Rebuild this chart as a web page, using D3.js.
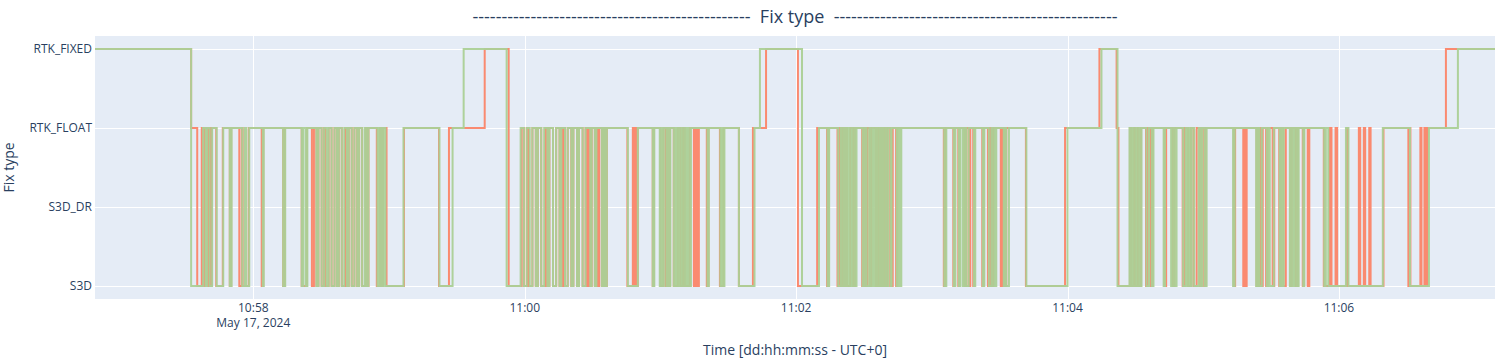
<!DOCTYPE html>
<html>
<head>
<meta charset="utf-8">
<script src="https://cdn.jsdelivr.net/npm/d3@7/dist/d3.min.js"></script>
<style>
    body { margin: 0; background: #fff; }
    svg text { font-family: "Open Sans", verdana, arial, sans-serif; fill: #2a3f5f; }
</style>
</head>
<body>
<svg id="grafico" width="1501" height="362"></svg>
<script>
// Categorías del eje Y (de abajo a arriba)
const categorias = ["S3D", "S3D_DR", "RTK_FLOAT", "RTK_FIXED"];

// Inicio del registro y duración (segundos)
const inicio = Date.UTC(2024, 4, 17, 10, 56, 50);
const duracion = 619;

// Serie verde: tramos en RTK_FIXED y caídas a S3D [inicio, fin] en segundos desde el inicio.
// El resto del tiempo está en RTK_FLOAT.
const verdeFixed = [[0, 42.5], [163.0, 182.0], [294.0, 312.6], [445.0, 452.1], [602.6, 619]];
const verdeS3D = [
    [42.5, 47.8], [48.9, 49.6], [50.7, 51.8], [53.8, 56.7], [59.6, 60.4], [65.1, 66.2], [66.9, 68.2], [74.2, 74.6], [83.2, 84.1],
    [91.4, 92.1], [93.2, 93.9], [97.9, 98.8], [100.2, 101.3], [102.4, 103.3], [104.6, 105.9], [107.0, 107.8], [109.1, 110.2],
    [111.4, 112.2], [113.5, 114.7], [115.9, 116.7], [118.0, 119.2], [120.0, 120.9], [124.9, 125.5], [126.0, 126.4], [127.1, 127.5],
    [128.4, 136.4], [152.3, 158.1],
    [182.0, 188.2], [189.6, 190.9], [192.2, 193.4], [194.9, 195.8], [197.3, 198.6], [200.0, 200.9], [202.5, 203.9],
    [205.4, 206.2], [207.8, 209.0], [210.6, 211.5], [213.1, 214.0], [215.6, 216.9], [219.0, 219.6], [221.0, 221.7],
    [224.1, 224.9], [225.6, 226.3],
    [235.6, 240.0], [246.6, 247.3], [249.7, 250.4], [250.8, 251.5], [252.6, 253.1], [253.9, 254.4], [255.9, 256.8],
    [257.3, 258.1], [258.6, 259.5], [259.9, 260.8], [261.3, 262.1], [262.6, 263.5], [270.8, 271.4], [276.5, 277.2],
    [277.6, 278.3], [284.7, 291.6],
    [312.6, 320.1], [323.9, 324.6], [328.6, 329.7], [330.1, 331.0], [331.7, 332.5], [333.4, 334.3], [335.0, 335.9],
    [336.3, 336.7], [339.4, 340.3], [341.2, 342.3], [342.7, 343.6], [344.3, 345.2], [345.8, 346.7], [347.2, 348.0],
    [348.5, 349.4], [349.8, 350.7], [351.8, 352.2], [354.5, 355.1], [355.8, 356.5], [375.5, 376.4], [379.7, 380.4],
    [381.9, 382.6], [383.7, 384.4], [385.2, 386.3], [388.6, 389.2], [392.5, 393.2], [395.2, 396.3], [396.7, 397.6],
    [397.9, 398.5], [401.8, 402.5], [402.9, 404.1], [411.8, 430.0],
    [452.1, 457.4], [457.9, 458.7], [459.2, 460.1], [460.5, 461.4], [461.8, 462.7], [464.9, 466.0], [467.2, 468.0],
    [472.5, 473.1], [475.8, 476.7], [477.3, 478.2], [481.1, 482.2], [482.7, 483.5], [484.0, 484.9], [486.0, 488.0],
    [488.9, 489.5], [490.6, 491.5], [503.2, 503.9], [513.4, 514.1], [514.8, 515.9], [518.1, 519.0], [519.4, 521.2],
    [523.8, 524.5], [525.2, 525.6], [528.3, 528.9], [529.8, 530.5], [531.4, 532.2], [534.2, 534.7], [543.5, 544.2],
    [545.3, 553.1], [554.2, 569.4], [581.4, 589.8]
];

// Serie roja, mismo formato
const rojoFixed = [[0, 42.5], [172.3, 182.9], [296.7, 310.8], [444.1, 451.7], [597.3, 619]];
const rojoS3D = [
    [45.2, 47.2], [48.0, 48.5], [49.8, 50.3], [51.1, 51.6], [53.6, 56.5], [59.6, 60.2], [63.8, 64.9], [65.3, 68.0], [73.7, 74.4],
    [83.2, 83.9], [91.4, 93.7], [95.9, 96.8], [97.9, 98.8], [100.2, 101.3], [101.8, 103.3], [104.6, 105.9], [107.0, 107.8],
    [109.1, 110.6], [111.4, 112.2], [113.5, 114.7], [115.9, 116.7], [118.0, 119.7], [120.0, 120.9], [124.6, 126.0], [126.9, 127.3],
    [128.9, 136.6], [152.1, 156.5],
    [182.9, 188.6], [189.6, 190.9], [191.6, 193.4], [194.9, 195.8], [197.3, 199.1], [200.0, 200.9], [202.5, 203.9],
    [205.4, 206.2], [207.0, 207.4], [207.8, 209.0], [210.6, 211.5], [213.1, 214.0], [215.6, 216.9], [217.6, 218.1],
    [219.0, 219.6], [221.0, 221.7], [222.4, 222.9], [224.1, 224.9], [225.6, 226.3],
    [235.4, 237.8], [238.4, 238.9], [239.3, 240.0], [246.6, 247.1], [250.0, 251.3], [252.4, 252.8], [253.7, 254.2], [255.9, 257.7],
    [258.8, 259.9], [260.8, 263.0], [264.8, 265.2], [265.7, 266.1], [266.6, 267.0], [270.5, 271.2], [276.3, 277.9], [284.7, 290.9],
    [310.8, 319.3], [323.7, 324.4], [328.3, 329.0], [329.9, 330.3], [331.2, 331.9], [332.5, 333.9], [335.2, 336.1], [339.2, 339.8],
    [340.7, 341.4], [342.5, 343.2], [345.2, 345.6], [346.3, 346.9], [347.6, 348.5], [349.4, 350.3], [351.6, 352.7], [354.2, 354.7],
    [375.3, 375.9], [379.5, 379.9], [381.7, 382.1], [384.4, 385.2], [386.3, 387.0], [388.3, 388.8], [392.3, 392.8], [394.8, 395.4],
    [396.3, 397.2], [400.5, 401.2], [402.1, 402.9], [411.6, 428.9],
    [452.5, 457.6], [458.1, 459.2], [459.9, 461.0], [461.4, 462.5], [464.7, 465.4], [466.7, 467.6], [472.9, 473.6], [476.5, 477.3],
    [480.9, 481.8], [483.3, 484.6], [485.7, 487.1], [488.4, 489.3], [490.4, 491.1], [503.5, 504.1], [507.7, 508.1], [508.6, 509.2],
    [513.6, 514.5], [515.4, 516.3], [517.8, 518.5], [520.7, 521.4], [523.6, 524.3], [525.4, 526.5], [528.5, 529.1], [530.9, 531.8],
    [534.0, 534.5], [536.2, 536.9],
    [543.3, 546.0], [546.7, 548.5], [549.2, 553.5], [553.9, 558.8], [559.4, 561.0], [561.6, 563.4], [564.0, 569.7],
    [580.7, 581.2], [581.6, 586.0], [586.5, 587.8], [588.3, 589.1]
];

const titulo = "------------------------------------------------  Fix type  -------------------------------------------------";

// Medidas del área de dibujo
const margen = {left: 95, right: 6, top: 36, bottom: 63};
const ancho = 1501, alto = 362;

/**
 * Convierte los tramos en una lista de puntos escalonados [segundos, categoría]
 */
function pasos(fixed, caidas){
    var tramos = fixed.map(d => [d[0], d[1], "RTK_FIXED"])
        .concat(caidas.map(d => [d[0], d[1], "S3D"]))
        .sort((a, b) => a[0] - b[0]);
    var puntos = [];
    if (tramos[0][0] > 0) puntos.push([0, "RTK_FLOAT"]);
    tramos.forEach(t => {
        puntos.push([t[0], t[2]]);
        puntos.push([t[1], t[1] >= duracion ? t[2] : "RTK_FLOAT"]);
    });
    return puntos;
}

var svg = d3.select("#grafico");

var x = d3.scaleUtc()
    .domain([new Date(inicio), new Date(inicio + duracion * 1000)])
    .range([margen.left, ancho - margen.right]);
var y = d3.scalePoint()
    .domain(categorias)
    .range([alto - margen.bottom, margen.top])
    .padding(0.165);

// Fondo
svg.append("rect")
    .attr("x", margen.left)
    .attr("y", margen.top)
    .attr("width", ancho - margen.left - margen.right)
    .attr("height", alto - margen.top - margen.bottom)
    .attr("fill", "#e5ecf6");

svg.append("clipPath").attr("id", "recorte")
    .append("rect")
    .attr("x", margen.left)
    .attr("y", margen.top)
    .attr("width", ancho - margen.left - margen.right)
    .attr("height", alto - margen.top - margen.bottom);

// Rejilla
var ticksX = x.ticks(d3.utcMinute.every(2));
svg.append("g").selectAll("line")
    .data(ticksX)
    .enter()
    .append("line")
    .attr("x1", d => Math.round(x(d)) + 0.5)
    .attr("x2", d => Math.round(x(d)) + 0.5)
    .attr("y1", margen.top)
    .attr("y2", alto - margen.bottom)
    .attr("stroke", "#fff")
    .attr("stroke-width", 1);
svg.append("g").selectAll("line")
    .data(categorias)
    .enter()
    .append("line")
    .attr("x1", margen.left)
    .attr("x2", ancho - margen.right)
    .attr("y1", d => Math.round(y(d)) + 0.5)
    .attr("y2", d => Math.round(y(d)) + 0.5)
    .attr("stroke", "#fff")
    .attr("stroke-width", 1);

// Líneas (la verde va encima)
var linea = d3.line()
    .x(d => x(new Date(inicio + d[0] * 1000)))
    .y(d => y(d[1]))
    .curve(d3.curveStepAfter);

svg.append("path")
    .datum(pasos(rojoFixed, rojoS3D))
    .attr("clip-path", "url(#recorte)")
    .attr("fill", "none")
    .attr("stroke", "#fa8a70")
    .attr("stroke-width", 2)
    .attr("d", linea);
svg.append("path")
    .datum(pasos(verdeFixed, verdeS3D))
    .attr("clip-path", "url(#recorte)")
    .attr("fill", "none")
    .attr("stroke", "#abd096")
    .attr("stroke-opacity", 0.95)
    .attr("stroke-width", 2)
    .attr("d", linea);

// Etiquetas del eje X
var formato = d3.utcFormat("%H:%M");
svg.append("g").selectAll("text")
    .data(ticksX)
    .enter()
    .append("text")
    .attr("x", d => x(d))
    .attr("y", 312)
    .attr("text-anchor", "middle")
    .style("font-size", "12px")
    .text(d => formato(d));
svg.append("text")
    .attr("x", x(ticksX[0]))
    .attr("y", 327)
    .attr("text-anchor", "middle")
    .style("font-size", "12px")
    .text("May 17, 2024");

// Etiquetas del eje Y
svg.append("g").selectAll("text")
    .data(categorias)
    .enter()
    .append("text")
    .attr("x", margen.left - 3)
    .attr("y", d => y(d))
    .attr("dy", "0.35em")
    .attr("text-anchor", "end")
    .style("font-size", "12px")
    .text(d => d);

// Títulos
svg.append("text")
    .attr("x", (margen.left + ancho - margen.right) / 2)
    .attr("y", 355)
    .attr("text-anchor", "middle")
    .style("font-size", "14px")
    .text("Time [dd:hh:mm:ss - UTC+0]");
svg.append("text")
    .attr("transform", "translate(14," + (margen.top + alto - margen.bottom) / 2 + ") rotate(-90)")
    .attr("text-anchor", "middle")
    .style("font-size", "14px")
    .text("Fix type");
svg.append("text")
    .attr("x", (margen.left + ancho - margen.right) / 2)
    .attr("y", 23)
    .attr("text-anchor", "middle")
    .style("font-size", "18px")
    .style("white-space", "pre")
    .text(titulo);
</script>
</body>
</html>
